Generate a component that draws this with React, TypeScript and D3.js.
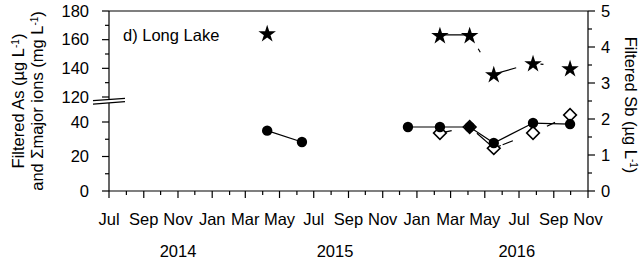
import React, { useEffect, useRef } from "react";
import * as d3 from "d3";

// sampling dates and values
const sampleDates = ["2015-04-09", "2015-06-10", "2015-12-16", "2016-02-11", "2016-04-04", "2016-05-17", "2016-07-26", "2016-09-30"];
const filteredAs = [35, 28.4, 37.1, 37.1, 37.1, 27.8, 39.4, 38.8];
const majorIons = [164.6, null, null, 163.3, 163.3, 136, 143.7, 140.2];
const filteredSb = [null, null, null, 1.61, 1.78, 1.19, 1.61, 2.11];

const monthLabels = ["Jul", "Sep", "Nov", "Jan", "Mar", "May", "Jul", "Sep", "Nov", "Jan", "Mar", "May", "Jul", "Sep", "Nov"];
const years = ["2014", "2015", "2016"];
const yearAnchors = ["2014-11-01", "2015-08-08", "2016-06-27"];

const leftLowTicks = [0, 20, 40];
const leftHighTicks = [120, 140, 160, 180];
const rightTicks = [0, 1, 2, 3, 4, 5];

const FONT = "'Liberation Sans', Arial, sans-serif";

export default function App() {
  const ref = useRef<SVGSVGElement>(null);

  useEffect(() => {
    const svg = d3.select(ref.current);
    svg.selectAll("*").remove();

    const left = 109, right = 588, top = 11, bottom = 191;
    const breakY = 100.5;
    const parse = d3.timeParse("%Y-%m-%d");

    const x = d3.scaleTime()
      .domain([new Date(2014, 6, 1), new Date(2016, 10, 1)])
      .range([left, right]);
    // broken left axis: two linear pieces
    const yLow = d3.scaleLinear().domain([0, 40]).range([bottom, 122]);
    const yHigh = d3.scaleLinear().domain([120, 180]).range([97, top]);
    const yL = (v: number) => (v < 80 ? yLow(v) : yHigh(v));
    const yR = d3.scaleLinear().domain([0, 5]).range([bottom, top]);

    const rows = sampleDates.map((d, i) => ({
      date: parse(d) as Date,
      as: filteredAs[i],
      ions: majorIons[i],
      sb: filteredSb[i],
    }));

    // frame
    const frame = svg.append("g").attr("stroke", "#000").attr("stroke-width", 1.2);
    frame.append("line").attr("x1", left).attr("x2", right).attr("y1", top).attr("y2", top);
    frame.append("line").attr("x1", left).attr("x2", right).attr("y1", bottom).attr("y2", bottom);
    frame.append("line").attr("x1", left).attr("x2", left).attr("y1", top).attr("y2", bottom);
    frame.append("line").attr("x1", right).attr("x2", right).attr("y1", top).attr("y2", bottom);

    // x ticks, monthly; labelled every second month
    const months = d3.timeMonth.range(new Date(2014, 6, 1), new Date(2016, 10, 2));
    months.forEach((m, i) => {
      frame.append("line")
        .attr("x1", x(m)).attr("x2", x(m))
        .attr("y1", bottom).attr("y2", bottom + (i % 2 === 0 ? 7 : 4));
    });
    const labelled = months.filter((_, i) => i % 2 === 0);
    svg.append("g").selectAll("text").data(labelled).join("text")
      .attr("x", (d) => x(d)).attr("y", 225)
      .attr("text-anchor", "middle").attr("font-size", 16.5).attr("font-family", FONT)
      .text((_, i) => monthLabels[i]);
    svg.append("g").selectAll("text").data(years).join("text")
      .attr("x", (_, i) => x(parse(yearAnchors[i]) as Date)).attr("y", 257)
      .attr("text-anchor", "middle").attr("font-size", 16.5).attr("font-family", FONT)
      .text((d) => d);

    // left ticks
    const leftMinor = [10, 30, 130, 150, 170];
    [...leftLowTicks, ...leftHighTicks].forEach((v) => {
      frame.append("line").attr("x1", left - 7).attr("x2", left).attr("y1", yL(v)).attr("y2", yL(v));
      svg.append("text").attr("x", 89).attr("y", yL(v) + 5.5)
        .attr("text-anchor", "end").attr("font-size", 16.5).attr("font-family", FONT).text(v);
    });
    leftMinor.forEach((v) => {
      frame.append("line").attr("x1", left - 4).attr("x2", left).attr("y1", yL(v)).attr("y2", yL(v));
    });

    // right ticks
    rightTicks.forEach((v) => {
      frame.append("line").attr("x1", right).attr("x2", right + 7).attr("y1", yR(v)).attr("y2", yR(v));
      svg.append("text").attr("x", 601).attr("y", yR(v) + 5.5)
        .attr("font-size", 16.5).attr("font-family", FONT).text(v);
    });
    d3.range(0.5, 5, 1).forEach((v) => {
      frame.append("line").attr("x1", right).attr("x2", right + 4).attr("y1", yR(v)).attr("y2", yR(v));
    });

    // axis break marks
    svg.append("polygon")
      .attr("points", `93,${breakY + 0.2} 125,${breakY - 2.2} 125,${breakY + 1.2} 93,${breakY + 3.6}`)
      .attr("fill", "#fff");
    svg.append("line").attr("x1", 93).attr("y1", breakY + 0.2).attr("x2", 125).attr("y2", breakY - 2.2)
      .attr("stroke", "#000").attr("stroke-width", 1.2);
    svg.append("line").attr("x1", 93).attr("y1", breakY + 3.6).attr("x2", 125).attr("y2", breakY + 1.2)
      .attr("stroke", "#000").attr("stroke-width", 1.2);

    // As line, split where sampling paused for months
    const gapOk = (i: number) => i === 0 || +rows[i].date - +rows[i - 1].date < 120 * 864e5;
    const runs: any[][] = [];
    rows.forEach((r, i) => {
      if (!gapOk(i) || i === 0) runs.push([]);
      runs[runs.length - 1].push(r);
    });
    const asLine = d3.line<any>().x((d) => x(d.date)).y((d) => yL(d.as));
    runs.forEach((run) => {
      svg.append("path")
        .attr("d", asLine(run) as string)
        .attr("fill", "none").attr("stroke", "#000").attr("stroke-width", 1.2);
    });

    // major ions: dashed line over the 2016 samples
    const ionRows = rows.filter((r) => r.ions != null);
    svg.append("path")
      .attr("d", d3.line<any>().x((d) => x(d.date)).y((d) => yL(d.ions))(ionRows.slice(1)) as string)
      .attr("fill", "none").attr("stroke", "#000").attr("stroke-width", 1.2)
      .attr("stroke-dasharray", "30,16,4,25,24,25,3,80");

    // Sb: dashed line
    const sbRows = rows.filter((r) => r.sb != null);
    svg.append("path")
      .attr("d", d3.line<any>().x((d) => x(d.date)).y((d) => yR(d.sb))(sbRows) as string)
      .attr("fill", "none").attr("stroke", "#000").attr("stroke-width", 1.2)
      .attr("stroke-dasharray", "12,28,30,2,11,37,9,60");

    // markers
    const diamond = d3.symbol(d3.symbolSquare, 80)();
    svg.append("g").selectAll("path").data(sbRows).join("path")
      .attr("d", diamond)
      .attr("transform", (d) => `translate(${x(d.date)},${yR(d.sb as number)}) rotate(45)`)
      .attr("fill", "#fff").attr("stroke", "#000").attr("stroke-width", 1.6);

    svg.append("g").selectAll("circle").data(rows).join("circle")
      .attr("cx", (d) => x(d.date)).attr("cy", (d) => yL(d.as)).attr("r", 5.2)
      .attr("fill", "#000");

    const star = d3.symbol(d3.symbolStar, 95)();
    svg.append("g").selectAll("path").data(ionRows).join("path")
      .attr("d", star)
      .attr("transform", (d) => `translate(${x(d.date)},${yL(d.ions as number) + 1})`)
      .attr("fill", "#000");

    // panel label
    svg.append("text").attr("x", 123).attr("y", 41)
      .attr("font-size", 16.5).attr("font-family", FONT).text("d) Long Lake");

    // axis titles
    const title = (g: any, parts: [string, boolean][]) => {
      parts.forEach(([t, sup]) => {
        const ts = g.append("tspan").text(t);
        if (sup) ts.attr("font-size", 10).attr("baseline-shift", "super");
      });
    };
    const t1 = svg.append("text").attr("transform", "translate(24,101) rotate(-90)")
      .attr("text-anchor", "middle").attr("font-size", 16.5).attr("font-family", FONT);
    title(t1, [["Filtered As (µg L", false], ["-1", true], [")", false]]);
    const t2 = svg.append("text").attr("transform", "translate(43,101) rotate(-90)")
      .attr("text-anchor", "middle").attr("font-size", 16.5).attr("font-family", FONT);
    title(t2, [["and Σmajor ions (mg L", false], ["-1", true], [")", false]]);
    const t3 = svg.append("text").attr("transform", "translate(625,105) rotate(90)")
      .attr("text-anchor", "middle").attr("font-size", 16.5).attr("font-family", FONT);
    title(t3, [["Filtered Sb (µg L", false], ["-1", true], [")", false]]);
  }, []);

  return (
    <svg ref={ref} width={642} height={259}
      style={{ position: "absolute", left: 0, top: 0, background: "#fff" }} />
  );
}
